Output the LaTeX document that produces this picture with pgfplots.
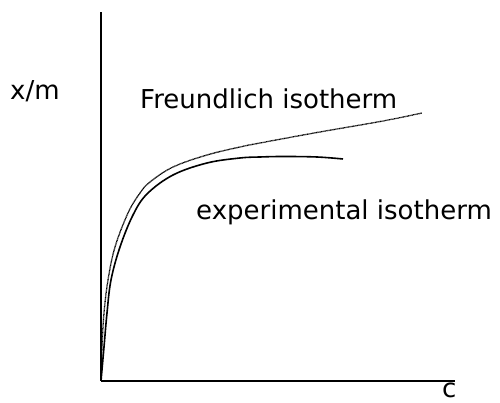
\documentclass[border=0pt]{standalone}
\usepackage{fontspec}
\setmainfont{DejaVu Sans}
\usepackage{pgfplots}
\pgfplotsset{compat=1.18}
\begin{document}
\begin{tikzpicture}[x=1pt,y=1pt]
\path[use as bounding box] (0,0) rectangle (500,403);
\begin{axis}[
  at={(101pt,22pt)}, anchor=origin,
  x=1pt, y=1pt,
  xmin=0, xmax=354, ymin=0, ymax=369,
  axis lines=left,
  axis line style={-, line width=1.4pt},
  xtick=\empty, ytick=\empty,
  clip=false,
]
% Freundlich isotherm (dotted)
\addplot[black, line width=1.3pt, dash pattern=on 0.8pt off 0.5pt, smooth, tension=0.6] coordinates {
(0,0) (1,34) (3,68) (7,101) (14,134) (27,168) (39,188) (49,199) (72,214) (106,226) (139,234) (159,238) (216,248.5) (282,260) (321,268)
};
% experimental isotherm (solid)
\addplot[black, line width=1.6pt, smooth, tension=0.6] coordinates {
(0,0) (3,34) (6,68) (10,101) (19,134) (32,166) (46,187) (72,206) (106,218) (139,223) (159,224) (182,224.5) (216,224) (242,222)
};
\end{axis}
\begin{scope}[every node/.style={inner sep=0pt, font=\fontsize{26pt}{31pt}\selectfont}]
\node[anchor=base west] at (10,303) {x/m};
\node[anchor=base west] at (140,294) {Freundlich isotherm};
\node[anchor=base west] at (196,183.5) {experimental isotherm};
\node[anchor=base west] at (442,5) {c};
\end{scope}
\end{tikzpicture}
\end{document}
